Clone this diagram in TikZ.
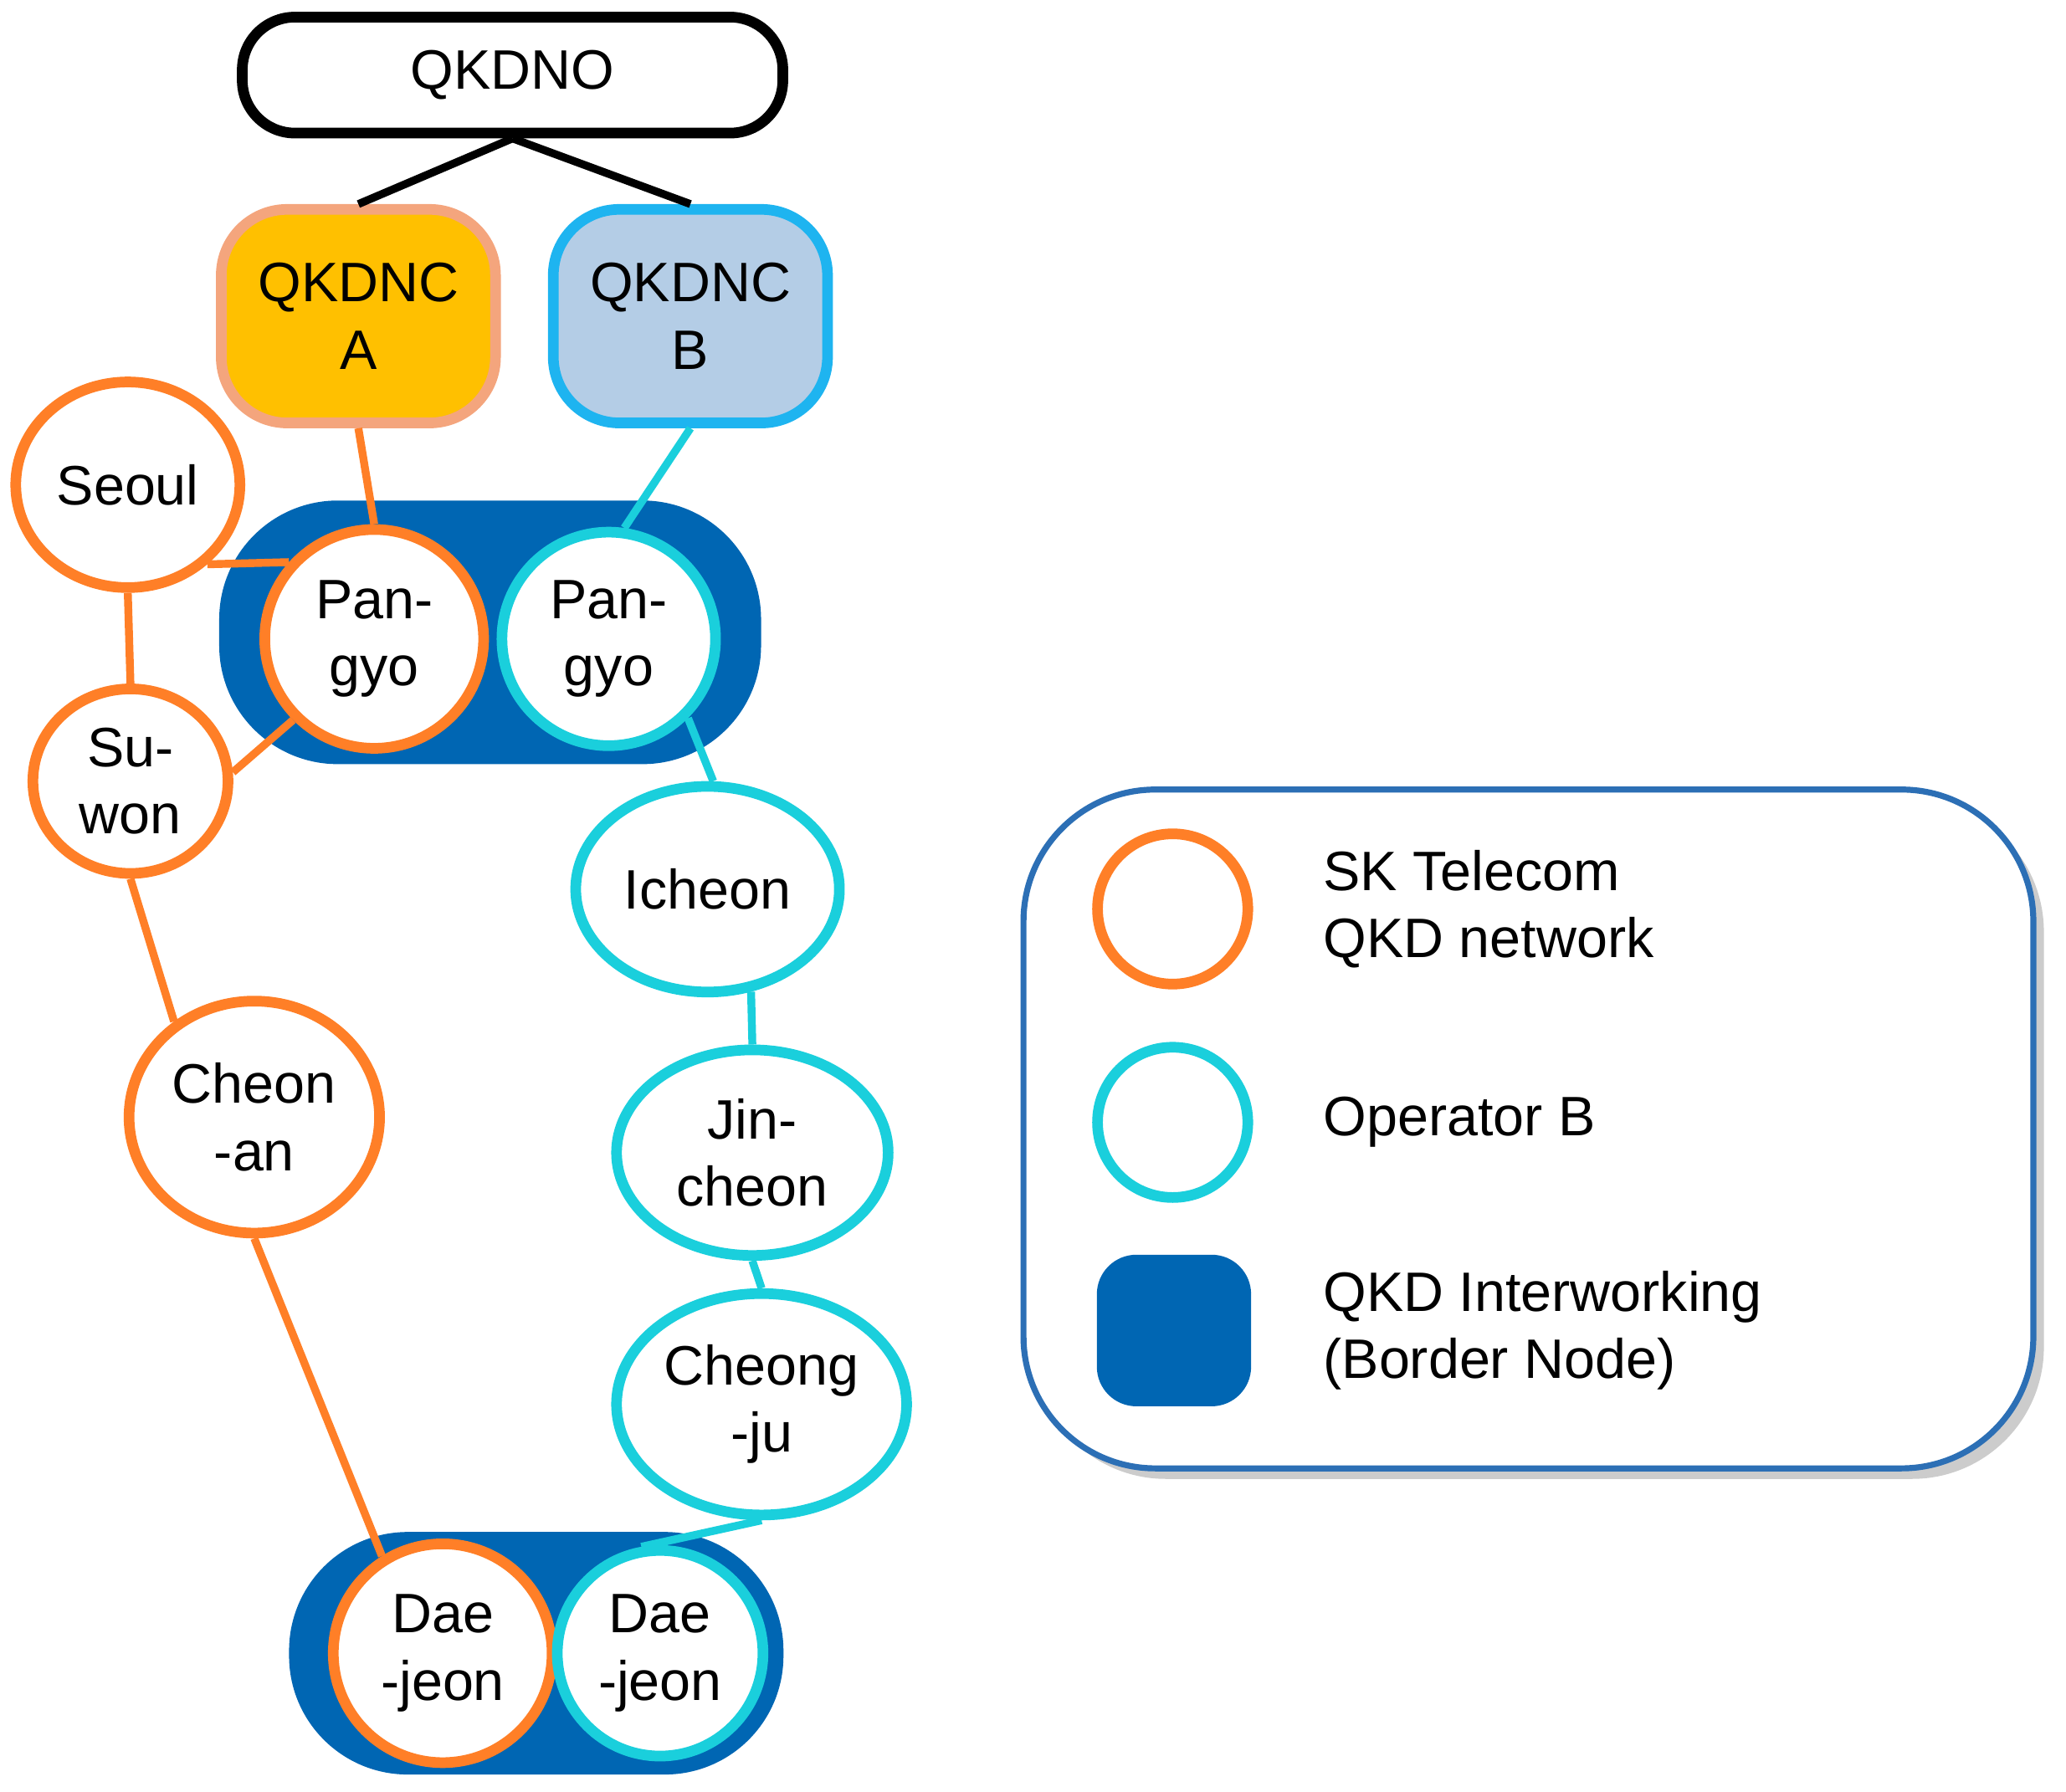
\documentclass[tikz,border=0pt]{standalone}
\usepackage{fontspec}
\setmainfont{Liberation Sans}
\usetikzlibrary{shapes.geometric,shadows}
\definecolor{orng}{HTML}{FF7F27}
\definecolor{cyn}{HTML}{1ACFDC}
\definecolor{bnode}{HTML}{0066B3}
\definecolor{gold}{HTML}{FFC000}
\definecolor{peach}{HTML}{F4A57D}
\definecolor{lblue}{HTML}{B4CDE6}
\definecolor{skyb}{HTML}{1EB4F0}
\definecolor{legb}{HTML}{2C6FB5}
\begin{document}
\begin{tikzpicture}[x=0.01cm,y=-0.01cm,font=\fontsize{12}{14.5}\selectfont,
  onode/.style={ellipse,draw=orng,line width=2.3pt,fill=white,align=center,inner sep=0pt},
  cnode/.style={ellipse,draw=cyn,line width=2.3pt,fill=white,align=center,inner sep=0pt},
  oline/.style={draw=orng,line width=1.7pt},
  cline/.style={draw=cyn,line width=1.7pt},
  border/.style={rectangle,rounded corners=0.9cm,fill=bnode,inner sep=0pt},
  ctrl/.style={rectangle,rounded corners=0.5cm,line width=2.3pt,align=center,inner sep=0pt}]
\useasboundingbox (0,0) rectangle (1568,1360);
% border nodes
\node[border,minimum width=4.11cm,minimum height=2.0cm] (bt) at (372,480) {};
\node[border,minimum width=3.75cm,minimum height=1.84cm] (bb) at (407,1255) {};
% controllers
\node[ctrl,draw=black,minimum width=4.1cm,minimum height=0.88cm,rounded corners=0.4cm] (qkdno) at (389,57) {QKDNO};
\node[ctrl,draw=peach,fill=gold,minimum width=2.08cm,minimum height=1.62cm] (nca) at (272,240) {QKDNC\\A};
\node[ctrl,draw=skyb,fill=lblue,minimum width=2.08cm,minimum height=1.62cm] (ncb) at (524,240) {QKDNC\\B};
% circles
\node[onode,minimum width=1.66cm,minimum height=1.66cm] (po) at (284,485) {Pan-\\gyo};
\node[cnode,minimum width=1.62cm,minimum height=1.62cm] (pc) at (462,485) {Pan-\\gyo};
\node[onode,minimum width=1.7cm,minimum height=1.56cm] (seoul) at (97,368) {Seoul};
\node[onode,minimum width=1.48cm,minimum height=1.4cm] (suwon) at (99,593) {Su-\\won};
\node[onode,minimum width=1.9cm,minimum height=1.76cm] (cheonan) at (193,848) {Cheon\\-an};
\node[cnode,minimum width=2.0cm,minimum height=1.56cm] (icheon) at (537,675) {Icheon};
\node[cnode,minimum width=2.06cm,minimum height=1.56cm] (jin) at (571,875) {Jin-\\cheon};
\node[cnode,minimum width=2.2cm,minimum height=1.68cm] (cj) at (578,1066) {Cheong\\-ju};
\node[onode,minimum width=1.66cm,minimum height=1.66cm] (do) at (336,1255) {Dae\\-jeon};
\node[cnode,minimum width=1.56cm,minimum height=1.56cm] (dc) at (501,1255) {Dae\\-jeon};
% edges
\draw[line width=1.7pt] (qkdno.south) -- (nca.north);
\draw[line width=1.7pt] (qkdno.south) -- (ncb.north);
\draw[oline] (nca.south) -- (po.north);
\draw[cline] (ncb.south) -- (pc.82);
\draw[oline] (seoul.-45) -- (po.138);
\draw[oline] (seoul.south) -- (suwon.north);
\draw[oline] (suwon.5) -- (po.-135);
\draw[oline] (suwon.south) -- (cheonan.130);
\draw[oline] (cheonan.south) -- (do.122);
\draw[cline] (pc.-45) -- (icheon.87);
\draw[cline] (icheon.-67) -- (jin.north);
\draw[cline] (jin.south) -- (cj.north);
\draw[cline] (cj.south) -- (dc.100);
% legend
\node[rectangle,rounded corners=1.0cm,draw=legb,line width=1.3pt,fill=white,
  minimum width=7.66cm,minimum height=5.15cm,drop shadow={shadow xshift=0.08cm,shadow yshift=-0.08cm,opacity=0.4}] (leg) at (1160,857) {};
\node[onode,minimum width=1.14cm,minimum height=1.14cm] (lo) at (890,690) {};
\node[cnode,minimum width=1.14cm,minimum height=1.14cm] (lc) at (890,852) {};
\node[border,rounded corners=0.3cm,minimum width=1.17cm,minimum height=1.15cm] (lb) at (891,1010) {};
\node[anchor=west,align=left] (t1) at (992,690) {SK Telecom\\QKD network};
\node[anchor=west,align=left] (t2) at (992,852) {Operator B};
\node[anchor=west,align=left] (t3) at (992,1010) {QKD Interworking\\(Border Node)};
\end{tikzpicture}
\end{document}
